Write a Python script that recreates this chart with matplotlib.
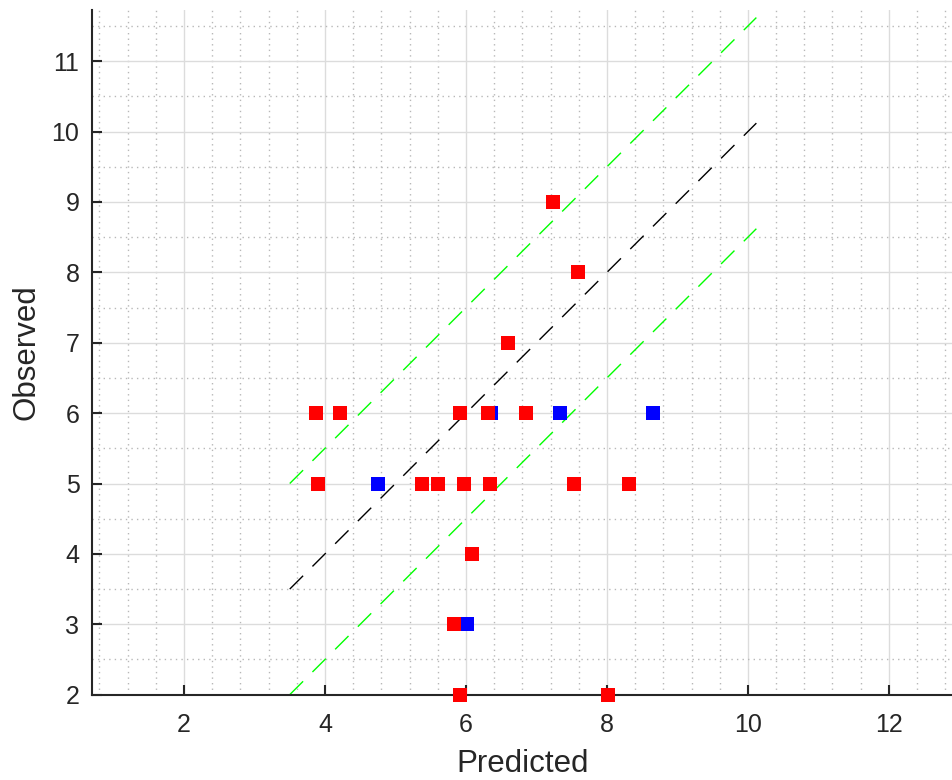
"""Observed vs predicted scatter with 1:1 line and +/-1.5 bands."""
import matplotlib
matplotlib.use("Agg")
import matplotlib.pyplot as plt
import numpy as np
from matplotlib.ticker import MultipleLocator

plt.rcParams["font.family"] = ["Liberation Sans", "DejaVu Sans"]

# red points
pred_red = [7.24, 7.59, 6.59, 3.87, 4.21, 5.91, 6.31, 6.85,
            3.90, 5.37, 5.60, 5.97, 6.34, 7.53, 8.32, 6.08, 5.83, 5.91, 8.01]
obs_red = [9, 8, 7, 6, 6, 6, 6, 6, 5, 5, 5, 5, 5, 5, 5, 4, 3, 2, 2]

# blue points
pred_blue = [6.36, 7.33, 8.66, 4.75, 6.02]
obs_blue = [6, 6, 6, 5, 3]

line_x = [3.5, 10.12]
band = 1.5

ink = "#262626"

fig = plt.figure(figsize=(9.53, 7.8), dpi=100)
ax = fig.add_axes([0.0965, 0.1094, 0.9035, 0.878])

lx = np.array(line_x)
dash = (0, (13.6, 9.5))
ax.plot(lx, lx, color="black", lw=1.0, ls=dash, zorder=2)
ax.plot(lx, lx + band, color="#00ff00", lw=1.0, ls=dash, zorder=2)
ax.plot(lx, lx - band, color="#00ff00", lw=1.0, ls=dash, zorder=2)

ax.plot(pred_blue, obs_blue, "s", color="#0000ff", ms=9.4, mew=0,
        zorder=3, clip_on=False)
ax.plot(pred_red, obs_red, "s", color="#ff0000", ms=9.4, mew=0,
        zorder=4, clip_on=False)

ax.set_xlim(0.694, 12.91)
ax.set_ylim(2, 11.73)
ax.xaxis.set_major_locator(MultipleLocator(2))
ax.xaxis.set_minor_locator(MultipleLocator(0.4))
ax.yaxis.set_major_locator(MultipleLocator(1))
ax.yaxis.set_minor_locator(MultipleLocator(0.5))

ax.grid(which="major", color="#dcdcdc", lw=1.0)
ax.grid(which="minor", color="#b8b8b8", lw=1.0, ls=(0, (1, 3)))
ax.set_axisbelow(True)

for side in ("top", "right"):
    ax.spines[side].set_visible(False)
for side in ("left", "bottom"):
    ax.spines[side].set_color(ink)
    ax.spines[side].set_linewidth(1.5)

ax.tick_params(which="major", direction="in", length=7.5, width=1.5,
               color=ink, labelcolor=ink, labelsize=18)
ax.tick_params(axis="x", which="major", pad=13)
ax.tick_params(axis="y", which="major", pad=9)
ax.tick_params(which="minor", length=0)

ax.set_xlabel("Predicted", fontsize=22.5, color=ink, labelpad=9)
ax.set_ylabel("Observed", fontsize=22.5, color=ink, labelpad=7)

fig.savefig("out.png", dpi=100)
plt.close(fig)
